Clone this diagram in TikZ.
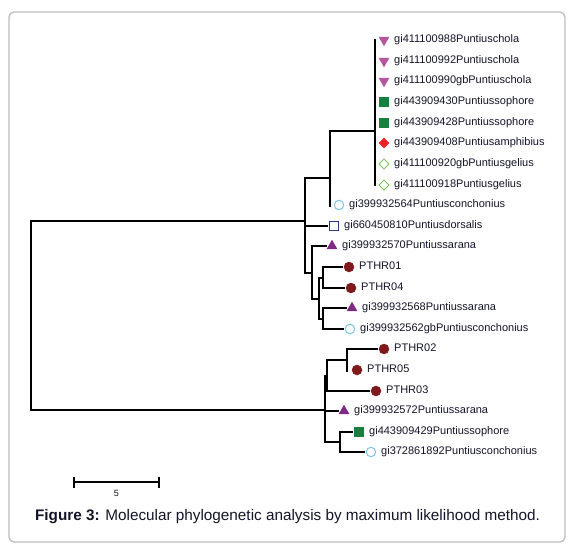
\documentclass[tikz,border=0pt]{standalone}
\usepackage{fontspec}
\setmainfont{Liberation Sans}
\usetikzlibrary{shapes.geometric}
\definecolor{magtri}{HTML}{B5569E}
\definecolor{grsq}{HTML}{177F40}
\definecolor{reddia}{HTML}{EE2028}
\definecolor{ltgreen}{HTML}{7CC360}
\definecolor{ltblue}{HTML}{7CC6E5}
\definecolor{navysq}{HTML}{2B3990}
\definecolor{purtri}{HTML}{7D2B84}
\definecolor{darkred}{HTML}{7E1A1C}
\definecolor{txt}{HTML}{141428}
\definecolor{framegray}{HTML}{BDBDBD}
\tikzset{
  branch/.style={line width=2.8pt, black},
  mk/.style={inner sep=0pt, outer sep=1.2pt},
  invtri/.style={mk, regular polygon, regular polygon sides=3, shape border rotate=180, minimum size=12.5pt, fill=magtri},
  uptri/.style={mk, regular polygon, regular polygon sides=3, minimum size=12.5pt, fill=purtri},
  gsq/.style={mk, rectangle, minimum size=9.3pt, fill=grsq},
  rdia/.style={mk, diamond, minimum size=11.5pt, fill=reddia},
  odia/.style={mk, diamond, minimum size=11pt, draw=ltgreen, line width=1pt},
  ocirc/.style={mk, circle, minimum size=9.5pt, draw=ltblue, line width=1pt},
  osq/.style={mk, rectangle, minimum size=9pt, draw=navysq, line width=1pt},
  fcirc/.style={mk, circle, minimum size=10.5pt, fill=darkred},
  lbl/.style={anchor=west, inner sep=0pt, font=\fontsize{11pt}{13pt}\selectfont, text=txt, text height=8pt, text depth=2.4pt},
}
\newcommand{\leafnode}[5]{%
  \node[#4] (#1) at (#2,#3) {};
  \node[lbl] (#1t) at (#2+10,#3) {#5};
}
\begin{document}
\begin{tikzpicture}[x=1pt,y=-1pt]
\useasboundingbox (0,0) rectangle (574,551);
\draw[framegray, line width=1.3pt, rounded corners=5pt] (9,12) rectangle (565,542);

% leaves
\leafnode{L1}{384}{40}{invtri}{gi411100988Puntiuschola}
\leafnode{L2}{384}{61}{invtri}{gi411100992Puntiuschola}
\leafnode{L3}{384}{81}{invtri}{gi411100990gbPuntiuschola}
\leafnode{L4}{384}{102}{gsq}{gi443909430Puntiussophore}
\leafnode{L5}{384}{123}{gsq}{gi443909428Puntiussophore}
\leafnode{L6}{384}{143}{rdia}{gi443909408Puntiusamphibius}
\leafnode{L7}{384}{164}{odia}{gi411100920gbPuntiusgelius}
\leafnode{L8}{384}{185}{odia}{gi411100918Puntiusgelius}
\leafnode{L9}{339}{205}{ocirc}{gi399932564Puntiusconchonius}
\leafnode{L10}{334}{226}{osq}{gi660450810Puntiusdorsalis}
\leafnode{L11}{332}{246}{uptri}{gi399932570Puntiussarana}
\leafnode{L12}{349}{267}{fcirc}{PTHR01}
\leafnode{L13}{351}{288}{fcirc}{PTHR04}
\leafnode{L14}{352}{308}{uptri}{gi399932568Puntiussarana}
\leafnode{L15}{350}{329}{ocirc}{gi399932562gbPuntiusconchonius}
\leafnode{L16}{384}{349}{fcirc}{PTHR02}
\leafnode{L17}{357}{370}{fcirc}{PTHR05}
\leafnode{L18}{376}{391}{fcirc}{PTHR03}
\leafnode{L19}{344}{411}{uptri}{gi399932572Puntiussarana}
\leafnode{L20}{359}{432}{gsq}{gi443909429Puntiussophore}
\leafnode{L21}{371}{452}{ocirc}{gi372861892Puntiusconchonius}

% internal nodes
\coordinate (R) at (31,315);
\coordinate (A) at (305,221);
\coordinate (B) at (330,178);
\coordinate (B9) at (330,207);
\coordinate (C) at (375,131);
\coordinate (Ct) at (375,39);
\coordinate (Cb) at (375,186);
\coordinate (D) at (312,273);
\coordinate (E) at (319,299);
\coordinate (F) at (323,278);
\coordinate (G) at (323,319);
\coordinate (H) at (325,410);
\coordinate (I) at (327,376);
\coordinate (J) at (347,360);
\coordinate (J17) at (347,372);
\coordinate (K) at (340,442);

\draw[branch] (R) |- (A);
\draw[branch] (R) |- (H);
\draw[branch] (A) |- (B);
\draw[branch] (A) |- (L10);
\draw[branch] (A) |- (D);
\draw[branch] (B) |- (C);
\draw[branch] (B) -- (B9);
\draw[branch] (Ct) -- (Cb);
\draw[branch] (D) |- (L11);
\draw[branch] (D) |- (E);
\draw[branch] (E) |- (F);
\draw[branch] (E) |- (G);
\draw[branch] (F) |- (L12);
\draw[branch] (F) |- (L13);
\draw[branch] (G) |- (L14);
\draw[branch] (G) |- (L15);
\draw[branch] (H) |- (I);
\draw[branch] (H) |- (L19);
\draw[branch] (H) |- (K);
\draw[branch] (I) |- (J);
\draw[branch] (I) |- (L18);
\draw[branch] (J) |- (L16);
\draw[branch] (J) -- (J17);
\draw[branch] (K) |- (L20);
\draw[branch] (K) |- (L21);

% scale bar
\coordinate (S1) at (74,482);
\coordinate (S2) at (159,482);
\draw[branch] (S1) -- (S2);
\draw[branch] (74,476.5) -- (74,487.5);
\draw[branch] (159,476.5) -- (159,487.5);
\node[font=\fontsize{9pt}{10pt}\selectfont, text=txt] (slbl) at (116.5,493) {5};

% caption
\node[font=\fontsize{15.3pt}{18pt}\selectfont, text=txt] (cap) at (287.5,517) {\textbf{Figure 3:} Molecular phylogenetic analysis by maximum likelihood method.};
\end{tikzpicture}
\end{document}
